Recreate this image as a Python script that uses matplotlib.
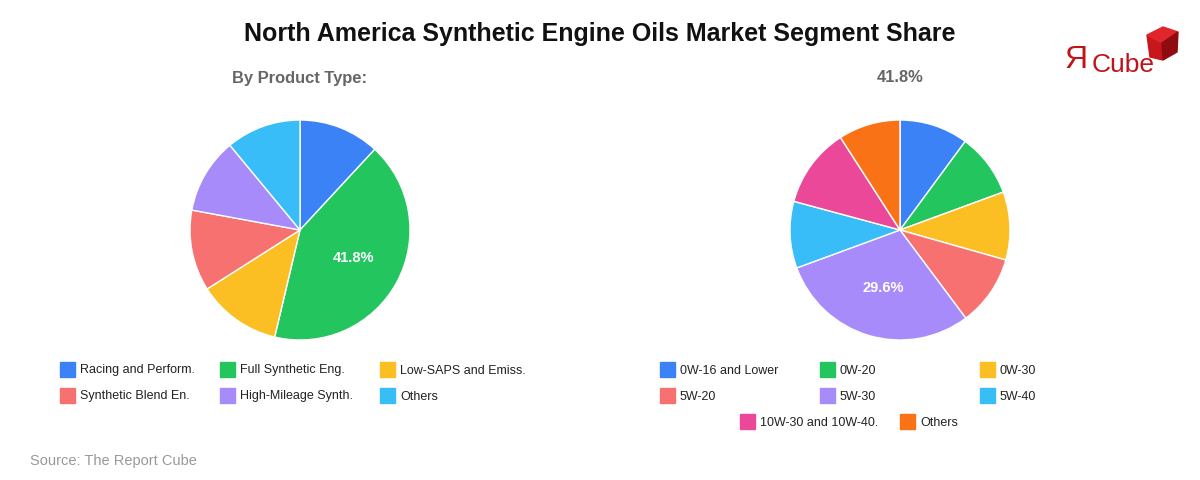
import matplotlib
matplotlib.use("Agg")
from matplotlib import pyplot as plt
from matplotlib.patches import Rectangle, Polygon

plt.rcParams['font.family'] = ['Liberation Sans', 'DejaVu Sans']

# Данные
product_labels = ["Racing and Perform.", "Full Synthetic Eng.", "Low-SAPS and Emiss.",
                  "Synthetic Blend En.", "High-Mileage Synth.", "Others"]
product_shares = [11.9, 41.8, 12.3, 11.9, 11.1, 11.0]

grade_labels = ["0W-16 and Lower", "0W-20", "0W-30", "5W-20", "5W-30", "5W-40",
                "10W-30 and 10W-40.", "Others"]
grade_shares = [10.1, 9.3, 10.0, 10.4, 29.6, 9.8, 11.7, 9.1]

product_colors = ["#3B82F6", "#22C55E", "#FBBF24", "#F87171", "#A78BFA", "#38BDF8"]
grade_colors = ["#3B82F6", "#22C55E", "#FBBF24", "#F87171", "#A78BFA", "#38BDF8",
                "#EC4899", "#F97316"]

W, H = 1200, 480
fig = plt.figure(figsize=(12, 4.8), dpi=100)


def fx(x):
    return x / W


def fy(y):
    return 1 - y / H


def draw_pie(cx, cy, r, values, colors):
    ax = fig.add_axes([fx(cx - r), fy(cy + r), 2 * r / W, 2 * r / H])
    ax.pie(values, colors=colors, startangle=90, counterclock=False,
           wedgeprops=dict(edgecolor="white", linewidth=1),
           autopct=lambda p: f"{p:.1f}%" if p > 20 else "", pctdistance=0.55,
           textprops=dict(color="white", fontsize=10.5, fontweight="bold"))
    ax.set_aspect("equal")
    ax.set_xlim(-1, 1)
    ax.set_ylim(-1, 1)
    return ax


def draw_legend(items, colors, positions):
    for (x, y), label, c in zip(positions, items, colors):
        fig.patches.append(Rectangle((fx(x), fy(y + 8)), 15 / W, 15 / H,
                                     transform=fig.transFigure, color=c))
        fig.text(fx(x + 20), fy(y + 1.5), label, fontsize=9, color="#222222", va="center")


draw_pie(300, 230, 110, product_shares, product_colors)
draw_pie(900, 230, 110, grade_shares, grade_colors)

# Заголовки
fig.text(0.5, fy(34), "North America Synthetic Engine Oils Market Segment Share",
         ha="center", va="center", fontsize=18, fontweight="bold", color="#111111")
fig.text(fx(300), fy(78), "By Product Type:", ha="center", va="center",
         fontsize=11.9, fontweight="bold", color="#666666")
fig.text(fx(900), fy(78), "41.8%", ha="center", va="center",
         fontsize=11.9, fontweight="bold", color="#666666")

# Легенды
left_pos = [(60, 369), (220, 369), (380, 369), (60, 395), (220, 395), (380, 395)]
draw_legend(product_labels, product_colors, left_pos)
right_pos = [(660, 369), (820, 369), (980, 369), (660, 395), (820, 395), (980, 395),
             (740, 421), (900, 421)]
draw_legend(grade_labels, grade_colors, right_pos)

fig.text(fx(30), fy(461), "Source: The Report Cube", fontsize=10.5, color="#999999",
         va="center")

# Логотип
fig.text(fx(1064), fy(60), "Я", fontsize=23, color="#C0141B", va="center")
fig.text(fx(1092), fy(65), "Cube", fontsize=19, color="#C0141B", va="center")
left = [(1147, 35), (1162, 43), (1163, 60), (1150, 57)]
top = [(1147, 35), (1163, 27), (1178, 32), (1162, 43)]
side = [(1162, 43), (1178, 32), (1177, 52), (1163, 60)]
for pts, col in [(left, "#C8161D"), (top, "#E0262C"), (side, "#8E0B10")]:
    fig.patches.append(Polygon([(fx(x), fy(y)) for x, y in pts], closed=True,
                               transform=fig.transFigure, color=col))

plt.savefig("out.png", dpi=100)
plt.close()
